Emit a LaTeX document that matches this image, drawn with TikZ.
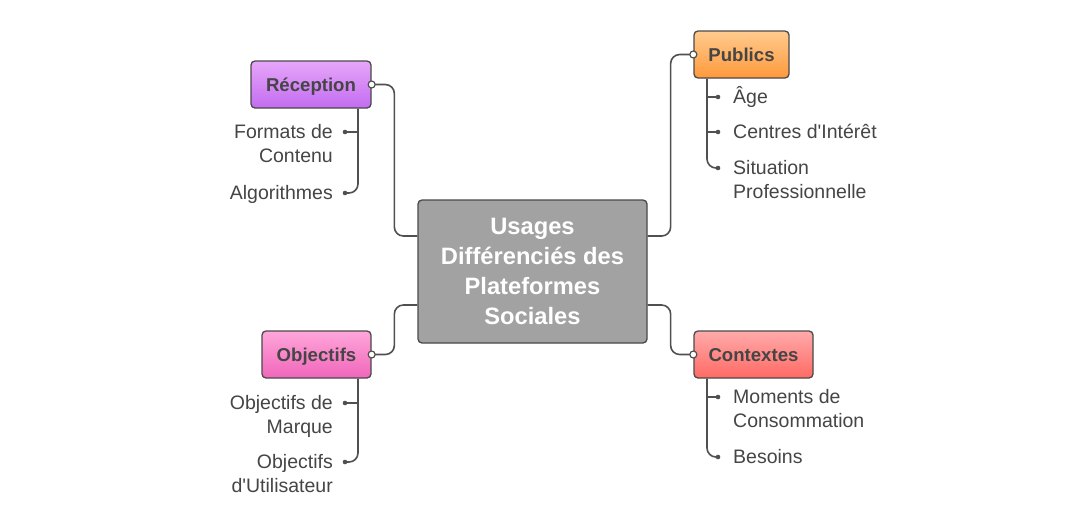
\documentclass[tikz,border=0pt]{standalone}
\usepackage{fontspec}
\setmainfont{Liberation Sans}[Ligatures=TeXOff]
\definecolor{edge}{HTML}{4A4A4A}
\definecolor{wire}{HTML}{505050}
\definecolor{ink}{HTML}{454545}
\definecolor{hubgray}{HTML}{A2A2A2}
\definecolor{recA}{HTML}{E6A6FA}
\definecolor{recB}{HTML}{C36CF0}
\definecolor{pubA}{HTML}{FFCB8E}
\definecolor{pubB}{HTML}{FF993C}
\definecolor{objA}{HTML}{FFA6DA}
\definecolor{objB}{HTML}{F066BA}
\definecolor{ctxA}{HTML}{FFAAAA}
\definecolor{ctxB}{HTML}{FF6A64}

\begin{document}
\begin{tikzpicture}[x=1pt,y=-1pt,
  hub/.style={draw=edge,line width=1.3pt,rounded corners=4pt,fill=hubgray,text=white,align=center,
    minimum width=229pt,minimum height=143pt,inner sep=0pt,font=\fontsize{23.7}{30}\selectfont\bfseries},
  topic/.style={draw=edge,line width=1.3pt,rounded corners=4pt,minimum height=47pt,inner sep=0pt,
    text height=13.4pt,text depth=0pt,text=ink,font=\fontsize{18.6}{22}\selectfont\bfseries},
  link/.style={draw=wire,line width=1.6pt,rounded corners=9pt},
  leaf/.style={text=ink,inner sep=0pt,font=\fontsize{19.5}{24.5}\selectfont},
  knob/.style={draw=wire,fill=white,line width=1.2pt},
  dot/.style={fill=wire}]
\fill[white] (0,0) rectangle (1065,507);
\useasboundingbox (0,0) rectangle (1065,507);

\node[hub] (ctr) at (532.5,271.5) {Usages\\Différenciés des\\Plateformes\\Sociales};
\node[topic,minimum width=120pt,top color=recA,bottom color=recB] (rec) at (311,84.5) {Réception};
\node[topic,minimum width=95pt,top color=pubA,bottom color=pubB] (pub) at (741.5,54.5) {Publics};
\node[topic,minimum width=109pt,top color=objA,bottom color=objB] (obj) at (316.5,354.5) {Objectifs};
\node[topic,minimum width=119pt,top color=ctxA,bottom color=ctxB] (ctx) at (753.5,354.5) {Contextes};

\draw[link] ([yshift=35.5pt]ctr.west) -- ++(-23,0) |- (rec.east);
\draw[link] ([yshift=-33.5pt]ctr.west) -- ++(-23,0) |- (obj.east);
\draw[link] ([yshift=35.5pt]ctr.east) -- ++(23,0) |- (pub.west);
\draw[link] ([yshift=-33.5pt]ctr.east) -- ++(23,0) |- (ctx.west);
\draw[knob] (rec.east) circle (3.5pt);
\draw[knob] (obj.east) circle (3.5pt);
\draw[knob] (pub.west) circle (3.5pt);
\draw[knob] (ctx.west) circle (3.5pt);

\coordinate (rt) at ([xshift=47pt]rec.south);
\coordinate (r1) at (345,132);
\coordinate (r2) at (345,193);
\draw[link] (rt) |- (r2);
\draw[link] (r1 -| rt) -- (r1);
\fill[dot] (r1) circle (2.3pt);
\fill[dot] (r2) circle (2.3pt);
\node[leaf,anchor=base east,align=right] (r1t) at ([xshift=-12pt,yshift=-30.5pt]r1) {Formats de\\Contenu};
\node[leaf,anchor=base east,align=right] (r2t) at ([xshift=-12pt,yshift=-6pt]r2) {Algorithmes};

\coordinate (ot) at ([xshift=41.5pt]obj.south);
\coordinate (o1) at (345,403);
\coordinate (o2) at (345,462);
\draw[link] (ot) |- (o2);
\draw[link] (o1 -| ot) -- (o1);
\fill[dot] (o1) circle (2.3pt);
\fill[dot] (o2) circle (2.3pt);
\node[leaf,anchor=base east,align=right] (o1t) at ([xshift=-12pt,yshift=-30.5pt]o1) {Objectifs de\\Marque};
\node[leaf,anchor=base east,align=right] (o2t) at ([xshift=-12pt,yshift=-30.5pt]o2) {Objectifs\\d'Utilisateur};

\coordinate (pt) at ([xshift=-34.5pt]pub.south);
\coordinate (p1) at (718,97);
\coordinate (p2) at (718,132);
\coordinate (p3) at (718,168);
\draw[link] (pt) |- (p3);
\draw[link] (p1 -| pt) -- (p1);
\draw[link] (p2 -| pt) -- (p2);
\fill[dot] (p1) circle (2.3pt);
\fill[dot] (p2) circle (2.3pt);
\fill[dot] (p3) circle (2.3pt);
\node[leaf,anchor=base west,align=left] (p1t) at ([xshift=15pt,yshift=-6pt]p1) {Âge};
\node[leaf,anchor=base west,align=left] (p2t) at ([xshift=15pt,yshift=-6pt]p2) {Centres d'Intérêt};
\node[leaf,anchor=base west,align=left] (p3t) at ([xshift=15pt,yshift=-30.5pt]p3) {Situation\\Professionnelle};

\coordinate (ct) at ([xshift=-46.5pt]ctx.south);
\coordinate (c1) at (718,397);
\coordinate (c2) at (718,457);
\draw[link] (ct) |- (c2);
\draw[link] (c1 -| ct) -- (c1);
\fill[dot] (c1) circle (2.3pt);
\fill[dot] (c2) circle (2.3pt);
\node[leaf,anchor=base west,align=left] (c1t) at ([xshift=15pt,yshift=-30.5pt]c1) {Moments de\\Consommation};
\node[leaf,anchor=base west,align=left] (c2t) at ([xshift=15pt,yshift=-6pt]c2) {Besoins};
\end{tikzpicture}
\end{document}
